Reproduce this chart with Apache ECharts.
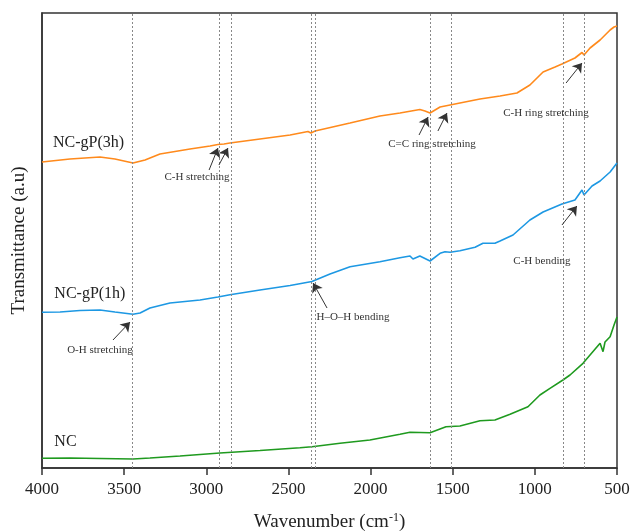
<!DOCTYPE html>
<html><head><meta charset="utf-8">
<script src="https://cdn.jsdelivr.net/npm/echarts@6/dist/echarts.min.js"></script>
<style>html,body{margin:0;padding:0;background:#fff}#c{width:630px;height:531px}</style>
</head><body><div id="c"></div>
<script>
// Wavenumber (cm-1) and transmittance (arbitrary units, offset stacked)
const wn3h = [4000,3830,3647,3556,3446,3373,3282,3099,2977,2929,2917,2892,2856,2673,2490,2381,2363,2338,2125,1943,1821,1700,1669,1638,1577,1516,1456,1334,1212,1109,1030,950,877,835,756,713,701,664,603,542,518,500];
const t3h  = [306,309,311,309,305,308,314,319,322,323.5,322,324,325,329,333,336.5,335,337,345,352,355,358.5,357,355,361,363,365,369,372,375,383,396,401,404,410,415.5,413,420,428,438,441,442];

const wn1h = [4000,3890,3769,3647,3556,3446,3403,3343,3221,3038,2929,2917,2856,2673,2490,2357,2247,2125,1943,1821,1760,1742,1700,1638,1577,1547,1516,1456,1364,1316,1243,1212,1133,1030,950,835,756,713,701,652,603,542,500];
const t1h  = [155.7,156,157.5,158,156,153.7,155,160,165,168,171,170,173.3,178,182.5,186.5,194,201.3,206.3,210.3,212,209,212,207,214.7,216.3,215.7,217.3,220.7,224.7,224.7,227,233,248,256,264,268,278,273,282,287,296,305];

const wnNC = [4000,3830,3647,3446,3343,3160,2917,2673,2430,2357,2186,2004,1821,1760,1638,1541,1456,1334,1243,1151,1042,969,908,829,786,707,603,585,573,542,518,500];
const tNC  = [9.7,10,9.5,9,10,12,15,17.5,20.3,21.3,24.7,28,33.7,35.7,35.3,41.3,42,47.3,48,53.7,61.3,73,79.7,88,93,104.7,124.7,116.3,126,131.3,143,151];

const seriesNames = ['NC-gP(3h)','NC-gP(1h)','NC'];
const bandPositions = [3450,2920,2850,2360,2335,1635,1510,830,700];
const xTicks = [4000,3500,3000,2500,2000,1500,1000,500];

// annotation labels: [text, wavenumber, value]
const annoText = [
  ['C-H stretching',3057,291],
  ['C=C ring stretching',1626,324],
  ['C-H ring stretching',932,355],
  ['C-H bending',957,207],
  ['H\u2013O\u2013H bending',2107,151],
  ['O-H stretching',3647,118]
];
// arrows: [fromWn, fromVal, toWn, toVal]
const annoArrows = [
  [2983,298,2929,320],[2923,303,2868,320],
  [1705,333,1650,351],[1590,337,1535,355],
  [810,385,713,405],
  [835,243,744,262],
  [2265,160,2350,185],
  [3568,128,3464,146]
];
const curveLabels = [['NC-gP(3h)',3933,325],['NC-gP(1h)',3925,174],['NC',3925,26]];

const zip = (a,b)=>a.map((x,i)=>[x,b[i]]);
const serif = '"Liberation Serif","Times New Roman",serif';

const chart = echarts.init(document.getElementById('c'), null, {renderer:'canvas'});
chart.setOption({
  animation:false,
  grid:{left:42,right:13,top:13,bottom:63,show:true,borderColor:'#333',borderWidth:1.5,outerBoundsMode:'none',containLabel:false},
  xAxis:{type:'value',inverse:true,min:500,max:4000,interval:500,
    name:'{a|Wavenumber (cm}{b|-1}{a|)}',nameLocation:'middle',nameGap:44,
    nameTextStyle:{rich:{a:{fontFamily:serif,fontSize:19,color:'#222'},b:{fontFamily:serif,fontSize:12,color:'#222',verticalAlign:'top',padding:[0,0,9,0]}}},
    axisLine:{lineStyle:{color:'#333',width:1.5}},
    axisTick:{show:true,inside:false,length:7,lineStyle:{color:'#333',width:1.5}},
    axisLabel:{fontFamily:serif,fontSize:17,color:'#222',margin:13,showMinLabel:true,showMaxLabel:true,formatter:v=>String(v)},
    splitLine:{show:false}},
  yAxis:{type:'value',min:0,max:455,
    name:'Transmittance (a.u)',nameLocation:'middle',nameGap:13,
    nameTextStyle:{fontFamily:serif,fontSize:19,color:'#222'},
    axisLine:{lineStyle:{color:'#333',width:1.5}},
    axisTick:{show:false},axisLabel:{show:false},splitLine:{show:false}},
  series:[
    {name:seriesNames[0],type:'line',data:zip(wn3h,t3h),showSymbol:false,lineStyle:{color:'#ff8a1c',width:1.6},
     markLine:{silent:true,symbol:'none',label:{show:false},lineStyle:{color:'#888',type:[2,2],width:1},
       data:bandPositions.map(v=>({xAxis:v}))}},
    {name:seriesNames[1],type:'line',data:zip(wn1h,t1h),showSymbol:false,lineStyle:{color:'#1d98e3',width:1.6}},
    {name:seriesNames[2],type:'line',data:zip(wnNC,tNC),showSymbol:false,lineStyle:{color:'#1f9a1f',width:1.6}},
    {name:'annotations',type:'scatter',data:[],silent:true,
     markLine:{silent:true,symbol:['none','arrow'],symbolSize:9,label:{show:false},
       lineStyle:{color:'#333',type:'solid',width:1},itemStyle:{color:'#111'},
       data:annoArrows.map(a=>[{coord:[a[0],a[1]]},{coord:[a[2],a[3]]}])},
     markPoint:{silent:true,symbol:'circle',symbolSize:0,
       data:annoText.map(a=>({coord:[a[1],a[2]],value:a[0],
         label:{show:true,formatter:a[0],fontFamily:serif,fontSize:11,color:'#333',position:'inside'}}))
         .concat(curveLabels.map(a=>({coord:[a[1],a[2]],value:a[0],
         label:{show:true,formatter:a[0],fontFamily:serif,fontSize:16,color:'#222',position:'right',distance:0}})))}}
  ]
});
</script></body></html>
